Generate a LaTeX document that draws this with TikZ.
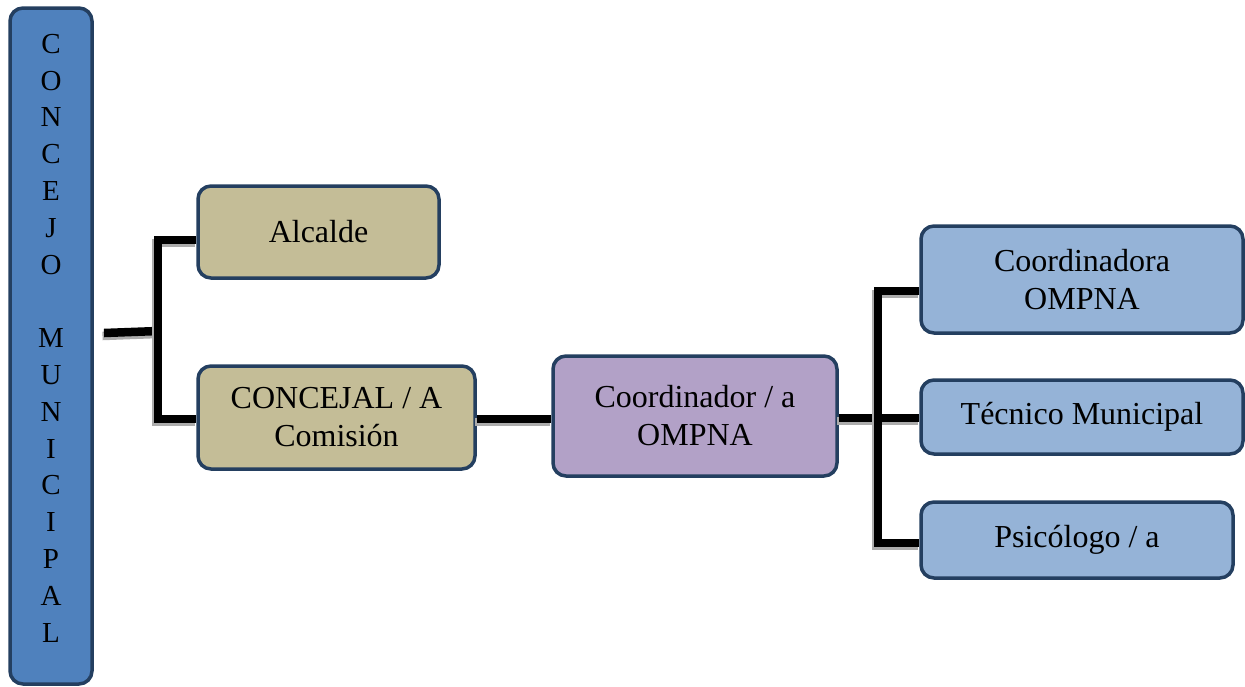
\documentclass[tikz,border=0pt]{standalone}
\usepackage{fontspec}
\setmainfont{Liberation Serif}
\definecolor{bord}{HTML}{243F60}
\definecolor{cblue}{HTML}{4F81BD}
\definecolor{ctan}{HTML}{C4BD97}
\definecolor{cviol}{HTML}{B2A1C7}
\definecolor{clblue}{HTML}{95B3D7}
\begin{document}
\begin{tikzpicture}[x=1pt,y=-1pt,
  box/.style={draw=bord, line width=3.5pt, rounded corners=13pt, align=center, inner sep=0pt,
    font=\fontsize{32}{38}\selectfont},
  conn/.style={line width=8.5pt, black, line join=miter,
    preaction={draw=gray!65, line width=8.5pt, transform canvas={shift={(-1.5pt,-3pt)}}}}]
\useasboundingbox (0,0) rectangle (1245,686);
\node[box, fill=cblue, minimum width=82pt, minimum height=676pt] (conc0) at (51,346) {};
\node[align=center, inner sep=0pt, font=\fontsize{29}{36.8}\selectfont] (conc0t) at (51,338)
  {C\\O\\N\\C\\E\\J\\O\\\mbox{}\\M\\U\\N\\I\\C\\I\\P\\A\\L};
\node[box, fill=ctan, minimum width=241pt, minimum height=92pt] (alc) at (318.5,232) {Alcalde};
\node[box, fill=ctan, minimum width=277pt, minimum height=103pt] (conc) at (336.5,417.5) {CONCEJAL / A\\Comisión};
\node[box, fill=cviol, minimum width=284pt, minimum height=120pt] (coord) at (695,416) {Coordinador / a\\OMPNA};
\node[box, fill=clblue, minimum width=322pt, minimum height=107pt] (cora) at (1082,279.5) {Coordinadora\\OMPNA};
\node[box, fill=clblue, minimum width=322pt, minimum height=74pt] (tec) at (1082,417) {Técnico Municipal};
\node[box, fill=clblue, minimum width=312pt, minimum height=76pt] (psi) at (1077,540) {Psicólogo / a};
\coordinate (s0) at (104,333);
\coordinate (j0) at (158,331);
\coordinate (a1) at (158,240);
\coordinate (a2) at (158,419);
\coordinate (b1) at (878,291);
\coordinate (b2) at (878,543);
\coordinate (b0) at (878,418);
\draw[conn] (s0) -- (j0);
\draw[conn] (alc.west |- a1) -- (a1) -- (a2) -- (conc.west |- a2);
\draw[conn] (conc.east |- a2) -- (coord.west |- a2);
\draw[conn] (coord.east |- b0) -- (tec.west |- b0);
\draw[conn] (cora.west |- b1) -- (b1) -- (b2) -- (psi.west |- b2);
\end{tikzpicture}
\end{document}
